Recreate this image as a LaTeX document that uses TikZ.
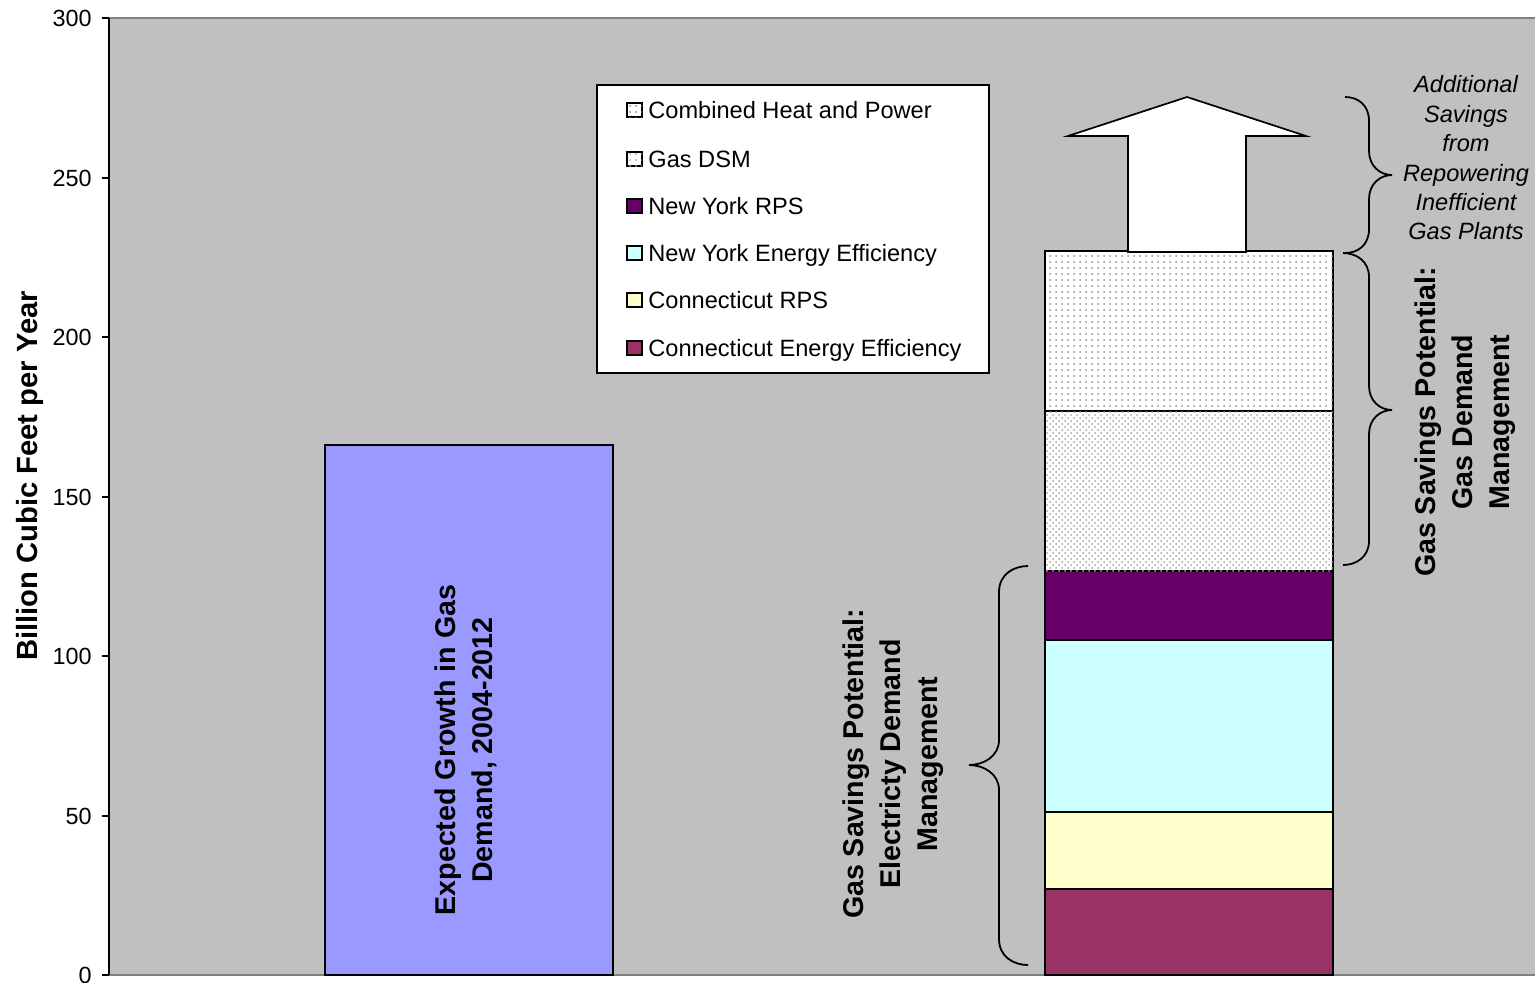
\documentclass[tikz,border=0pt]{standalone}
\usepackage{fontspec}
\setmainfont{Liberation Sans}
\usetikzlibrary{patterns}
\definecolor{plotbg}{HTML}{C0C0C0}
\definecolor{plotedge}{HTML}{808080}
\definecolor{growth}{HTML}{9999FF}
\definecolor{ctee}{HTML}{993366}
\definecolor{ctrps}{HTML}{FFFFCC}
\definecolor{nyee}{HTML}{CCFFFF}
\definecolor{nyrps}{HTML}{660066}
\begin{document}
\begin{tikzpicture}[x=0.5pt,y=-0.5pt,
  seg/.style={draw=black,line width=0.85pt},
  dsm/.style={seg,fill=white,postaction={pattern=crosshatch dots,pattern color=black!35}},
  chp/.style={seg,fill=white,postaction={pattern=dots,pattern color=black!45}},
  ticklab/.style={anchor=east,inner sep=0pt,font=\fontsize{11.7}{14}\selectfont},
  legtext/.style={anchor=base west,inner sep=0pt,font=\fontsize{11.8}{14}\selectfont},
  swatch/.style={draw=black,line width=0.9pt},
  boldlab/.style={rotate=90,align=center,inner sep=0pt,font=\bfseries\fontsize{14.3}{18.5}\selectfont},
  itlab/.style={align=center,inner sep=0pt,font=\itshape\fontsize{11.8}{14.7}\selectfont},
  bracestyle/.style={draw=black,line width=0.9pt}]
\useasboundingbox (0,0) rectangle (1535,982);
\fill[white] (0,0) rectangle (1535,982);
% plot area
\fill[plotbg] (109,18) rectangle (1535,975);
\draw[plotedge,line width=1pt] (109,18) -- (1535,18);
\draw[plotedge,line width=1pt] (109,975) -- (1535,975);
\draw[black,line width=0.8pt] (109,18) -- (109,975);
% ticks and labels
\foreach \v/\yy in {0/975,50/816,100/656,150/497,200/337,250/178,300/18}{
  \draw[black,line width=0.8pt] (102,\yy) -- (109,\yy);
  \node[ticklab] (t\v) at (92,\yy) {\v};
}
\node[boldlab,font=\bfseries\fontsize{14.6}{18}\selectfont] (ylab) at (30,476) {Billion Cubic Feet per Year};
% growth bar
\draw[seg,fill=growth] (325,975) rectangle (613,445);
\node[boldlab] (glab) at (466,750) {Expected Growth in Gas\\Demand, 2004-2012};
% stacked bar
\draw[seg,fill=ctee] (1045,975) rectangle (1333,889);
\draw[seg,fill=ctrps] (1045,889) rectangle (1333,812);
\draw[seg,fill=nyee] (1045,812) rectangle (1333,640);
\draw[seg,fill=nyrps] (1045,640) rectangle (1333,571);
\draw[dsm] (1045,571) rectangle (1333,411);
\draw[chp] (1045,411) rectangle (1333,251);
% arrow
\draw[seg,fill=white,line join=miter] (1128,252) -- (1128,136) -- (1068,136) -- (1187,97) -- (1306,136) -- (1246,136) -- (1246,252) -- cycle;
% legend
\draw[black,line width=0.8pt,fill=white] (597,85) rectangle (989,373);
\draw[swatch,fill=white,postaction={pattern=dots,pattern color=black!45}] (627,103) rectangle (642,117);
\node[legtext] (l1) at (648,118.5) {Combined Heat and Power};
\draw[swatch,fill=white,postaction={pattern=dots,pattern color=black!35}] (627,152) rectangle (642,166);
\node[legtext] (l2) at (648,167) {Gas DSM};
\draw[swatch,fill=nyrps] (627,199) rectangle (642,213);
\node[legtext] (l3) at (648,214.5) {New York RPS};
\draw[swatch,fill=nyee] (627,246) rectangle (642,260);
\node[legtext] (l4) at (648,261.5) {New York Energy Efficiency};
\draw[swatch,fill=ctrps] (627,293) rectangle (642,307);
\node[legtext] (l5) at (648,308.5) {Connecticut RPS};
\draw[swatch,fill=ctee] (627,341) rectangle (642,355);
\node[legtext] (l6) at (648,356.5) {Connecticut Energy Efficiency};
% braces
\draw[bracestyle] (1345,97) .. controls (1358,97) and (1369,105) .. (1369,121) -- (1369,151) .. controls (1369,166) and (1380,175) .. (1392,175) .. controls (1380,175) and (1369,184) .. (1369,199) -- (1369,229) .. controls (1369,245) and (1358,253) .. (1345,253);
\draw[bracestyle] (1343,253) .. controls (1356,253) and (1369,261) .. (1369,277) -- (1369,386) .. controls (1369,401) and (1380,410) .. (1392,410) .. controls (1380,410) and (1369,419) .. (1369,434) -- (1369,541) .. controls (1369,557) and (1356,565) .. (1343,565);
\draw[bracestyle] (1028,566) .. controls (1014,566) and (999,574) .. (999,592) -- (999,740) .. controls (999,756) and (984,765) .. (969,765) .. controls (984,765) and (999,774) .. (999,790) -- (999,939) .. controls (999,957) and (1014,965) .. (1028,965);
% brace labels
\node[itlab] (addlab) at (1466,158) {Additional\\Savings\\from\\Repowering\\Inefficient\\Gas Plants};
\node[boldlab] (gaslab) at (1465,422) {Gas Savings Potential:\\Gas Demand\\Management};
\node[boldlab] (eleclab) at (893,764) {Gas Savings Potential:\\Electricty Demand\\Management};
\end{tikzpicture}
\end{document}
